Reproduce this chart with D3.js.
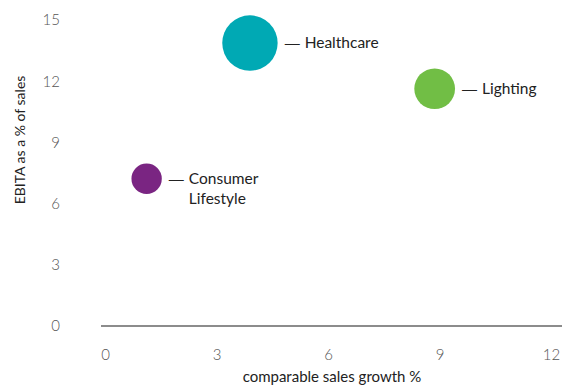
<!DOCTYPE html>
<html>
<head>
<meta charset="utf-8">
<script src="https://cdn.jsdelivr.net/npm/d3@7"></script>
<style>
  html, body { margin: 0; padding: 0; background: #fff; }
  svg { display: block; }
</style>
</head>
<body>
<svg id="chart" width="562" height="391"></svg>
<script>
// ---- data ----
const sectors = ["Healthcare", "Lighting", "Consumer Lifestyle"];
const salesGrowth = [3.9, 8.87, 1.12];      // x: comparable sales growth %
const ebitaPct = [13.87, 11.63, 7.22];      // y: EBITA as a % of sales
const bubbleSize = [100, 54, 30];           // relative bubble size
const colors = ["#00A9B4", "#71BE45", "#7A2582"];
const xTicks = [0, 3, 6, 9, 12];
const yTicks = [0, 3, 6, 9, 12, 15];
const xTitle = "comparable sales growth %";
const yTitle = "EBITA as a % of sales";

// ---- chart ----
const svg = d3.select("#chart");
const font = "Lato, 'Open Sans', sans-serif";

const x = d3.scaleLinear().domain([0, 12]).range([105, 551]);
const y = d3.scaleLinear().domain([0, 15]).range([326, 20]);
const r = d3.scaleSqrt().domain([0, d3.max(bubbleSize)]).range([0, 27.7]);

// baseline
svg.append("line")
  .attr("x1", 101).attr("x2", 562)
  .attr("y1", y(0)).attr("y2", y(0))
  .attr("stroke", "#666").attr("stroke-width", 1.5);

// x axis ticks
const xAxis = d3.axisBottom(x).tickValues(xTicks).tickSize(0).tickPadding(0);
const gx = svg.append("g").attr("transform", "translate(0,355)").call(xAxis);
gx.select(".domain").remove();
gx.selectAll("text")
  .attr("dy", "0.35em").attr("y", 0)
  .attr("font-family", font).attr("font-weight", 300)
  .attr("font-size", 15).attr("fill", "#555");

// y axis ticks
const yAxis = d3.axisLeft(y).tickValues(yTicks).tickSize(0).tickPadding(0);
const gy = svg.append("g").attr("transform", "translate(60,0)").call(yAxis);
gy.select(".domain").remove();
gy.selectAll("text")
  .attr("font-family", font).attr("font-weight", 300)
  .attr("font-size", 15).attr("fill", "#555");

// axis titles
svg.append("text")
  .attr("x", 332).attr("y", 377).attr("dy", "0.35em")
  .attr("text-anchor", "middle")
  .attr("font-family", font).attr("font-size", 15).attr("fill", "#222")
  .text(xTitle);

svg.append("text")
  .attr("transform", "translate(20,140) rotate(-90)")
  .attr("dy", "0.35em")
  .attr("text-anchor", "middle")
  .attr("font-family", font).attr("font-size", 14).attr("fill", "#222")
  .text(yTitle);

// bubbles
const data = sectors.map((s, i) => ({
  name: s, x: salesGrowth[i], y: ebitaPct[i], size: bubbleSize[i], color: colors[i]
}));

svg.selectAll("circle.bubble")
  .data(data).enter().append("circle")
  .attr("class", "bubble")
  .attr("cx", d => x(d.x)).attr("cy", d => y(d.y))
  .attr("r", d => r(d.size))
  .attr("fill", d => d.color);

// labels
data.forEach(d => {
  const words = d.name.split(" ");
  const lx = x(d.x) + r(d.size) + 7;
  const t = svg.append("text")
    .attr("x", lx)
    .attr("y", y(d.y))
    .attr("dy", "0.35em")
    .attr("font-family", font).attr("font-size", 15.5).attr("fill", "#222");
  t.append("tspan").attr("x", lx)
    .attr("font-family", "'Liberation Sans', sans-serif").attr("font-size", 15)
    .text("—");
  t.append("tspan").attr("x", lx + 20).text(words[0]);
  if (words.length > 1) {
    t.append("tspan").attr("x", lx + 20).attr("dy", 20).text(words.slice(1).join(" "));
  }
});
</script>
</body>
</html>
